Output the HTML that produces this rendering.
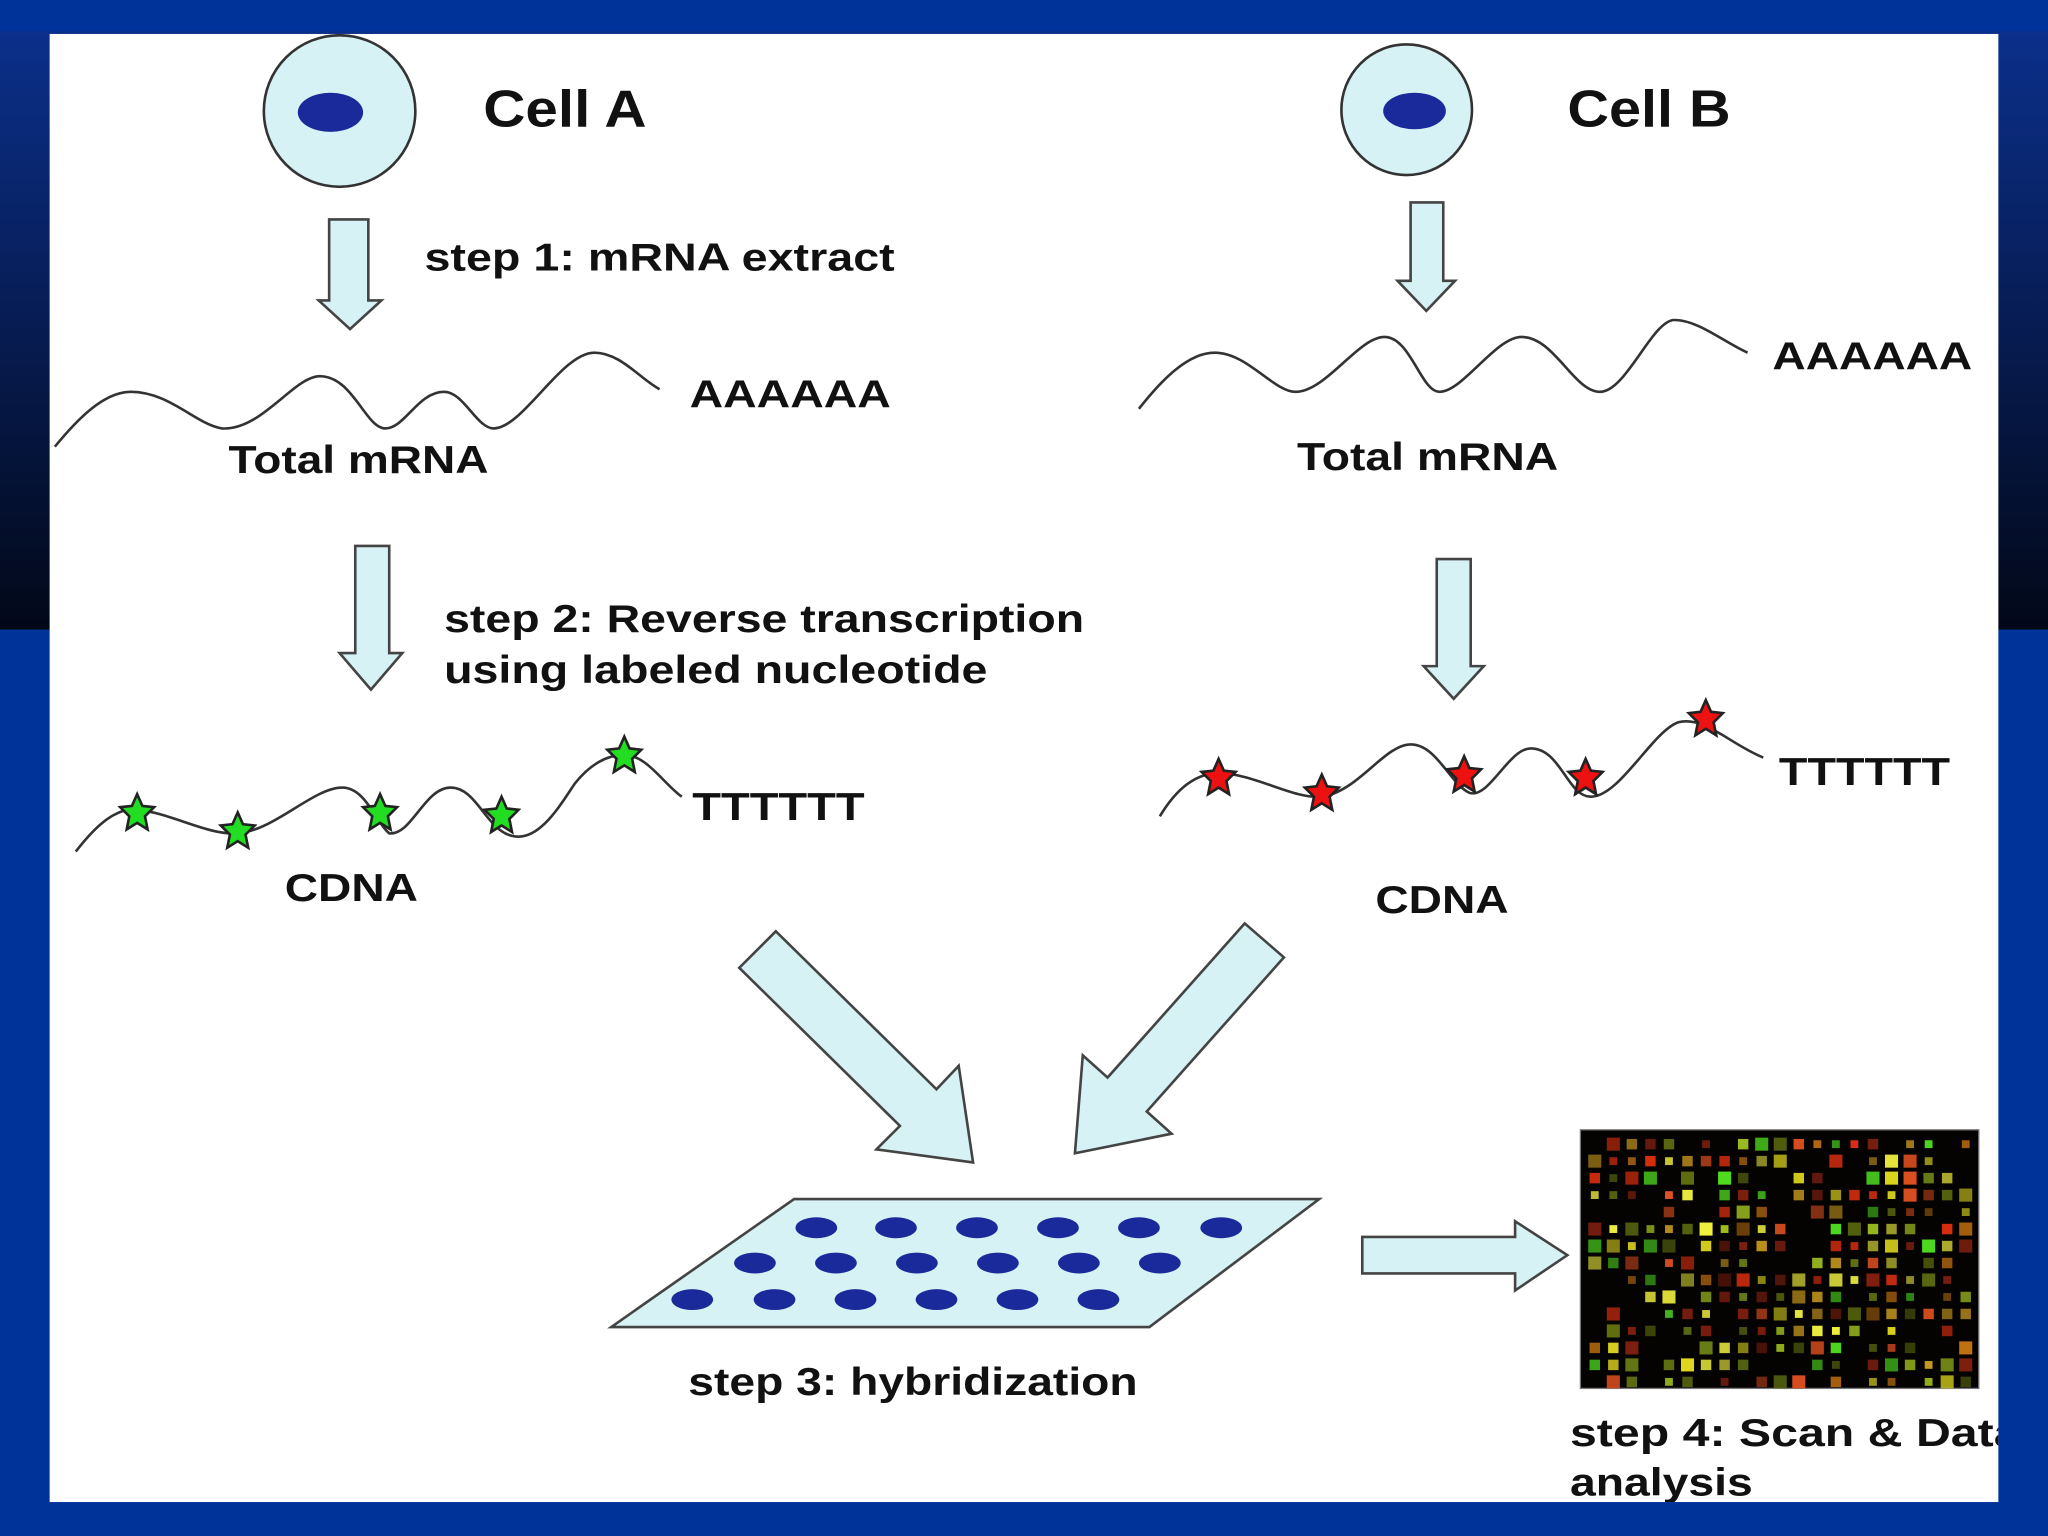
<!DOCTYPE html>
<html><head><meta charset="utf-8"><style>
html,body{margin:0;padding:0;width:2048px;height:1536px;overflow:hidden;background:#003399}
svg{display:block}
text{font-family:"Liberation Sans",sans-serif;font-weight:bold;fill:#111}
</style></head><body>
<svg width="2048" height="1536" viewBox="0 0 1568 1176" xmlns="http://www.w3.org/2000/svg">
<defs>
<linearGradient id="dk" x1="0" y1="0" x2="0" y2="1">
<stop offset="0" stop-color="#0b2f8a"/><stop offset="1" stop-color="#020818"/>
</linearGradient>
<clipPath id="pc"><rect x="38" y="26" width="1492" height="1124"/></clipPath>
<g id="sg"><polygon points="0,-14 4,-5 13,-4 6,3 8,13 0,8 -8,13 -6,3 -13,-4 -4,-5" stroke="#222" stroke-width="2"/></g>
</defs>
<rect width="1568" height="1176" fill="#003399"/>
<rect x="0" y="24" width="1568" height="458" fill="url(#dk)"/>
<rect x="38" y="26" width="1492" height="1124" fill="#fff"/>
<g clip-path="url(#pc)">
<circle cx="260" cy="85" r="58" fill="#d6f2f5" stroke="#333" stroke-width="2"/>
<ellipse cx="253" cy="86" rx="25" ry="15" fill="#1a2a9a"/>
<circle cx="1077" cy="84" r="50" fill="#d6f2f5" stroke="#333" stroke-width="2"/>
<ellipse cx="1083" cy="85" rx="24" ry="14" fill="#1a2a9a"/>
<text x="370" y="97" font-size="40" textLength="125" lengthAdjust="spacingAndGlyphs">Cell A</text>
<text x="1200" y="97" font-size="40" textLength="125" lengthAdjust="spacingAndGlyphs">Cell B</text>
<g fill="#d6f2f5" stroke="#444" stroke-width="2">
<polygon points="252,168 282,168 282,230 292,230 268,252 244,230 252,230"/>
<polygon points="1080,155 1105,155 1105,215 1114,215 1092,238 1070,215 1080,215"/>
<polygon points="272,418 298,418 298,500 308,500 284,528 260,500 272,500"/>
<polygon points="1100,428 1126,428 1126,510 1136,510 1113,535 1090,510 1100,510"/>
<polygon points="594,713 717,834 734,816 745,890 671,880 689,862 566,741"/>
<polygon points="953,707 848,825 829,808 823,883 897,868 878,851 983,733"/>
<polygon points="468,1016 608,918 1010,918 880,1016"/>
<polygon points="1043,947 1160,947 1160,935 1200,961 1160,988 1160,975 1043,975"/>
</g>
<text x="325" y="207" font-size="30" textLength="360" lengthAdjust="spacingAndGlyphs">step 1: mRNA extract</text>
<g fill="none" stroke="#333" stroke-width="2">
<path d="M42,342 C60,320 80,300 100,300 C130,300 150,325 170,328 C200,330 225,288 245,288 C270,288 280,328 295,328 C310,328 320,300 340,300 C355,300 365,328 378,328 C400,328 430,270 455,270 C475,270 490,290 505,298"/>
<path d="M872,313 C890,290 910,270 930,270 C955,270 975,300 992,300 C1015,300 1040,258 1060,258 C1080,258 1088,300 1102,300 C1120,300 1145,258 1165,258 C1190,258 1205,300 1225,300 C1245,300 1265,245 1282,245 C1300,245 1320,262 1338,270"/>
<path d="M58,652 C75,630 90,618 105,620 C130,622 160,640 182,638 C210,636 240,603 262,603 C280,603 288,630 298,638 C315,640 325,603 345,603 C365,603 372,635 392,640 C412,645 428,618 440,600 C452,585 465,578 478,578 C495,578 508,600 522,610"/>
<path d="M888,625 C900,605 915,592 933,592 C960,592 990,612 1012,610 C1040,606 1060,570 1080,570 C1100,570 1110,600 1125,607 C1140,612 1155,573 1172,573 C1195,573 1200,610 1218,610 C1240,610 1265,560 1285,553 C1305,548 1325,570 1350,580"/>
</g>
<text x="528" y="312" font-size="30" textLength="154" lengthAdjust="spacingAndGlyphs">AAAAAA</text>
<text x="175" y="362" font-size="30" textLength="199" lengthAdjust="spacingAndGlyphs">Total mRNA</text>
<text x="1357" y="283" font-size="30" textLength="153" lengthAdjust="spacingAndGlyphs">AAAAAA</text>
<text x="993" y="360" font-size="30" textLength="200" lengthAdjust="spacingAndGlyphs">Total mRNA</text>
<text x="340" y="484" font-size="30" textLength="490" lengthAdjust="spacingAndGlyphs">step 2: Reverse transcription</text>
<text x="340" y="523" font-size="30" textLength="416" lengthAdjust="spacingAndGlyphs">using labeled nucleotide</text>
<g fill="#22dd22">
<use href="#sg" x="105" y="622"/><use href="#sg" x="182" y="636"/><use href="#sg" x="291" y="622"/><use href="#sg" x="384" y="624"/><use href="#sg" x="478" y="578"/>
</g>
<g fill="#ee1111">
<use href="#sg" x="933" y="595"/><use href="#sg" x="1012" y="607"/><use href="#sg" x="1121" y="593"/><use href="#sg" x="1214" y="595"/><use href="#sg" x="1306" y="550"/>
</g>
<text x="530" y="628" font-size="30" textLength="132" lengthAdjust="spacingAndGlyphs">TTTTTT</text>
<text x="218" y="690" font-size="30" textLength="102" lengthAdjust="spacingAndGlyphs">CDNA</text>
<text x="1362" y="601" font-size="30" textLength="131" lengthAdjust="spacingAndGlyphs">TTTTTT</text>
<text x="1053" y="699" font-size="30" textLength="102" lengthAdjust="spacingAndGlyphs">CDNA</text>
<g fill="#1a2a9a">
<ellipse cx="625" cy="940" rx="16" ry="8"/><ellipse cx="686" cy="940" rx="16" ry="8"/><ellipse cx="748" cy="940" rx="16" ry="8"/><ellipse cx="810" cy="940" rx="16" ry="8"/><ellipse cx="872" cy="940" rx="16" ry="8"/><ellipse cx="935" cy="940" rx="16" ry="8"/>
<ellipse cx="578" cy="967" rx="16" ry="8"/><ellipse cx="640" cy="967" rx="16" ry="8"/><ellipse cx="702" cy="967" rx="16" ry="8"/><ellipse cx="764" cy="967" rx="16" ry="8"/><ellipse cx="826" cy="967" rx="16" ry="8"/><ellipse cx="888" cy="967" rx="16" ry="8"/>
<ellipse cx="530" cy="995" rx="16" ry="8"/><ellipse cx="593" cy="995" rx="16" ry="8"/><ellipse cx="655" cy="995" rx="16" ry="8"/><ellipse cx="717" cy="995" rx="16" ry="8"/><ellipse cx="779" cy="995" rx="16" ry="8"/><ellipse cx="841" cy="995" rx="16" ry="8"/>
</g>
<text x="527" y="1068" font-size="30" textLength="344" lengthAdjust="spacingAndGlyphs">step 3: hybridization</text>
<rect x="1210" y="865" width="305" height="198" fill="#050302" stroke="#777" stroke-width="1"/>
<g id="dots"></g>
<text x="1202" y="1107" font-size="30" textLength="345" lengthAdjust="spacingAndGlyphs">step 4: Scan &amp; Data</text>
<text x="1202" y="1145" font-size="30" textLength="140" lengthAdjust="spacingAndGlyphs">analysis</text>
</g>
</svg>
<script>
(function(){
var g=document.getElementById('dots'),s=7,ns='http://www.w3.org/2000/svg';
function r(){s=(s*16807)%2147483647;return s/2147483647;}
var cols=['#e8e020','#50e020','#e03010','#c07010','#a0c020','#d0a020','#607010','#802010','#f0f040','#e05020'];
for(var y=0;y<15;y++)for(var x=0;x<21;x++){
 var v=r(); if(v<0.25) continue;
 var e=document.createElementNS(ns,'rect');
 var sz=v>0.8?10:(v>0.5?8:6);
 e.setAttribute('x',1217+x*14.2-sz/2+4);e.setAttribute('y',872+y*13-sz/2+4);
 e.setAttribute('width',sz);e.setAttribute('height',sz);
 e.setAttribute('fill',cols[Math.floor(r()*cols.length)]);
 e.setAttribute('opacity',0.5+0.5*r());
 g.appendChild(e);}
})();
</script>
</body></html>
